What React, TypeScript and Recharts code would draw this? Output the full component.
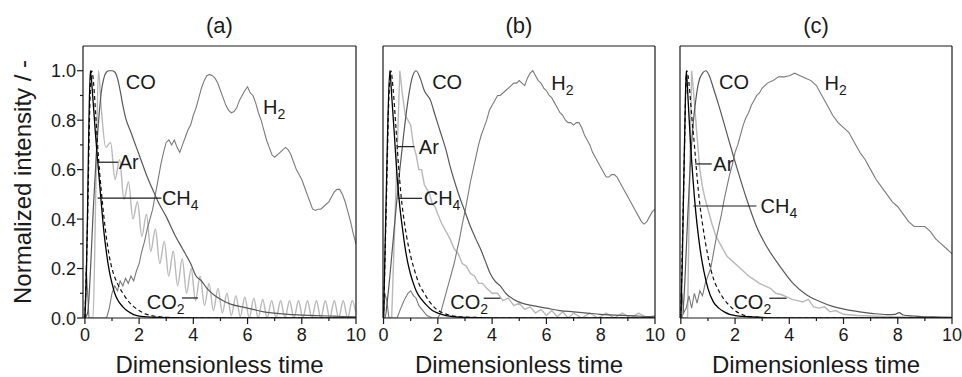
import React from "react";
import { LineChart, Line, XAxis, YAxis, ReferenceLine, ReferenceDot } from "recharts";

type Pt = [number, number];

const xTicks = [0, 1, 2, 3, 4, 5, 6, 7, 8, 9, 10];
const yTicks = [0, 0.1, 0.2, 0.3, 0.4, 0.5, 0.6, 0.7, 0.8, 0.9, 1.0];
const xTitle = "Dimensionless time";
const yTitle = "Normalized intensity / -";

// ---- panel (a) ----
const arA: Pt[] = [[0, 0], [0.05, 0.15], [0.1, 0.45], [0.15, 0.8], [0.2, 1.0], [0.3, 0.88], [0.4, 0.73], [0.5, 0.6], [0.6, 0.47], [0.7, 0.35], [0.8, 0.26], [0.9, 0.19], [1.0, 0.14], [1.1, 0.1], [1.2, 0.075], [1.4, 0.045], [1.6, 0.026], [1.8, 0.014], [2.0, 0.008], [2.5, 0.003], [3.0, 0.001], [4, 0], [10, 0]];
const ch4A: Pt[] = [[0, 0], [0.1, 0.4], [0.18, 0.85], [0.25, 1.0], [0.32, 0.95], [0.4, 0.82], [0.5, 0.65], [0.6, 0.52], [0.7, 0.41], [0.8, 0.32], [0.9, 0.25], [1.0, 0.2], [1.2, 0.14], [1.4, 0.1], [1.6, 0.068], [1.8, 0.046], [2.0, 0.03], [2.2, 0.018], [2.5, 0.009], [3.0, 0.003], [3.5, 0.001], [4, 0], [10, 0]];
const coA: Pt[] = [[0, 0], [0.1, 0.02], [0.2, 0.18], [0.3, 0.42], [0.4, 0.62], [0.5, 0.79], [0.6, 0.91], [0.7, 0.97], [0.8, 0.995], [0.9, 1.0], [1.0, 1.0], [1.1, 0.995], [1.2, 0.97], [1.3, 0.92], [1.4, 0.86], [1.5, 0.81], [1.7, 0.75], [1.9, 0.69], [2.1, 0.63], [2.3, 0.57], [2.5, 0.52], [2.7, 0.47], [3.0, 0.41], [3.3, 0.34], [3.6, 0.28], [3.9, 0.22], [4.1, 0.17], [4.3, 0.15], [4.5, 0.12], [4.8, 0.09], [5.1, 0.07], [5.4, 0.055], [5.8, 0.045], [6.2, 0.035], [6.6, 0.025], [7.0, 0.02], [7.5, 0.015], [8.0, 0.012], [8.5, 0.01], [9.0, 0.008], [9.5, 0.006], [10, 0.005]];
const co2A: Pt[] = [[0, 0], [0.3, 0], [0.4, 0.5], [0.5, 1.0], [0.61, 0.84], [0.77, 0.69], [0.95, 0.71], [1.11, 0.56], [1.28, 0.64], [1.44, 0.48], [1.61, 0.55], [1.77, 0.4], [1.94, 0.47], [2.1, 0.33], [2.27, 0.42], [2.43, 0.27], [2.6, 0.36], [2.76, 0.22], [2.93, 0.31], [3.09, 0.17], [3.26, 0.27], [3.42, 0.13], [3.59, 0.24], [3.75, 0.1], [3.92, 0.2], [4.08, 0.07], [4.25, 0.17], [4.41, 0.05], [4.58, 0.14], [4.74, 0.03], [4.91, 0.12], [5.07, 0.02], [5.24, 0.1], [5.4, 0.01], [5.57, 0.09], [5.73, 0.005], [5.9, 0.085], [6.06, 0], [6.23, 0.08], [6.39, 0], [6.56, 0.075], [6.72, 0], [6.89, 0.07], [7.05, 0], [7.22, 0.07], [7.38, 0], [7.55, 0.07], [7.71, 0], [7.88, 0.07], [8.04, 0], [8.21, 0.07], [8.37, 0], [8.54, 0.07], [8.7, 0], [8.87, 0.07], [9.03, 0], [9.2, 0.07], [9.36, 0], [9.53, 0.07], [9.69, 0], [9.86, 0.07], [10, 0.02]];
const h2A: Pt[] = [[0, 0], [0.05, 0.2], [0.1, 0.1], [0.15, 0], [0.8, 0], [0.9, 0.04], [1.0, 0.1], [1.1, 0.13], [1.2, 0.11], [1.3, 0.15], [1.4, 0.13], [1.5, 0.16], [1.6, 0.14], [1.7, 0.17], [1.8, 0.15], [1.9, 0.19], [2.0, 0.22], [2.1, 0.27], [2.2, 0.31], [2.3, 0.36], [2.4, 0.4], [2.5, 0.44], [2.6, 0.5], [2.7, 0.56], [2.8, 0.62], [2.9, 0.67], [3.0, 0.71], [3.1, 0.72], [3.2, 0.7], [3.3, 0.72], [3.4, 0.69], [3.5, 0.67], [3.6, 0.7], [3.7, 0.73], [3.8, 0.76], [3.9, 0.78], [4.0, 0.82], [4.1, 0.85], [4.2, 0.89], [4.3, 0.93], [4.4, 0.96], [4.5, 0.98], [4.6, 0.985], [4.7, 0.98], [4.8, 0.97], [4.9, 0.95], [5.0, 0.92], [5.1, 0.89], [5.2, 0.86], [5.3, 0.84], [5.4, 0.83], [5.5, 0.835], [5.6, 0.85], [5.7, 0.88], [5.8, 0.9], [5.9, 0.92], [6.0, 0.935], [6.1, 0.91], [6.2, 0.9], [6.3, 0.87], [6.4, 0.83], [6.5, 0.8], [6.6, 0.76], [6.7, 0.72], [6.8, 0.69], [6.9, 0.66], [7.0, 0.65], [7.1, 0.66], [7.2, 0.67], [7.3, 0.68], [7.4, 0.69], [7.5, 0.68], [7.6, 0.66], [7.7, 0.63], [7.8, 0.6], [7.9, 0.58], [8.0, 0.56], [8.1, 0.53], [8.2, 0.5], [8.3, 0.47], [8.4, 0.44], [8.5, 0.435], [8.6, 0.44], [8.7, 0.44], [8.8, 0.45], [8.9, 0.46], [9.0, 0.47], [9.1, 0.49], [9.2, 0.51], [9.3, 0.52], [9.4, 0.52], [9.5, 0.5], [9.6, 0.47], [9.7, 0.43], [9.8, 0.39], [9.9, 0.34], [10, 0.3]];

// ---- panel (b) ----
const arB: Pt[] = [[0, 0], [0.05, 0.25], [0.1, 0.5], [0.15, 0.75], [0.23, 1.0], [0.3, 0.9], [0.4, 0.74], [0.5, 0.57], [0.6, 0.45], [0.7, 0.36], [0.8, 0.28], [0.9, 0.22], [1.0, 0.175], [1.1, 0.14], [1.2, 0.11], [1.4, 0.075], [1.6, 0.05], [1.8, 0.03], [2.0, 0.02], [2.3, 0.01], [2.6, 0.005], [3.0, 0.002], [4, 0], [10, 0]];
const ch4B: Pt[] = [[0, 0], [0.1, 0.45], [0.2, 0.9], [0.27, 1.0], [0.35, 0.93], [0.45, 0.78], [0.55, 0.62], [0.65, 0.49], [0.75, 0.4], [0.85, 0.33], [1.0, 0.25], [1.15, 0.19], [1.3, 0.14], [1.5, 0.1], [1.7, 0.065], [1.9, 0.04], [2.1, 0.025], [2.4, 0.012], [2.8, 0.005], [3.5, 0.002], [4, 0], [10, 0]];
const coB: Pt[] = [[0, 0], [0.05, 0], [0.15, 0.08], [0.3, 0.25], [0.45, 0.43], [0.6, 0.6], [0.75, 0.75], [0.9, 0.88], [1.05, 0.97], [1.2, 1.0], [1.35, 0.97], [1.5, 0.92], [1.73, 0.88], [1.9, 0.82], [2.1, 0.75], [2.3, 0.68], [2.46, 0.61], [2.65, 0.54], [2.83, 0.48], [3.0, 0.43], [3.2, 0.37], [3.4, 0.32], [3.57, 0.28], [3.75, 0.23], [3.93, 0.18], [4.1, 0.15], [4.3, 0.13], [4.5, 0.1], [4.8, 0.075], [5.1, 0.06], [5.5, 0.05], [6.0, 0.04], [6.5, 0.03], [7.0, 0.025], [7.5, 0.02], [8.0, 0.015], [8.5, 0.012], [9.0, 0.01], [9.5, 0.007], [10, 0.005]];
const co2B: Pt[] = [[0, 0], [0.3, 0], [0.45, 0.5], [0.6, 1.0], [0.7, 0.9], [0.8, 0.82], [0.9, 0.8], [1.0, 0.78], [1.1, 0.7], [1.2, 0.66], [1.3, 0.6], [1.4, 0.6], [1.5, 0.54], [1.6, 0.52], [1.7, 0.5], [1.8, 0.46], [1.9, 0.45], [2.0, 0.42], [2.15, 0.38], [2.3, 0.35], [2.45, 0.32], [2.6, 0.28], [2.75, 0.26], [2.9, 0.22], [3.05, 0.21], [3.2, 0.18], [3.35, 0.17], [3.5, 0.14], [3.65, 0.14], [3.8, 0.12], [4.0, 0.1], [4.2, 0.1], [4.4, 0.07], [4.6, 0.08], [4.8, 0.05], [5.0, 0.06], [5.2, 0.035], [5.4, 0.045], [5.6, 0.02], [5.8, 0.035], [6.0, 0.01], [6.2, 0.03], [6.4, 0.005], [6.6, 0.025], [6.8, 0], [7.0, 0.02], [7.3, 0], [7.6, 0.02], [7.9, 0], [8.2, 0.02], [8.5, 0], [8.8, 0.02], [9.1, 0], [9.4, 0.02], [9.7, 0], [10, 0.01]];
const h2B: Pt[] = [[0, 0], [0.05, 0.1], [0.12, 0.07], [0.2, 0], [0.5, 0], [0.6, 0.03], [0.75, 0.07], [0.9, 0.1], [1.0, 0.11], [1.1, 0.09], [1.2, 0.08], [1.3, 0.05], [1.45, 0.03], [1.6, 0.01], [1.8, 0], [2.0, 0], [2.1, 0.02], [2.2, 0.06], [2.3, 0.1], [2.4, 0.14], [2.5, 0.18], [2.6, 0.22], [2.7, 0.27], [2.8, 0.32], [2.9, 0.38], [3.0, 0.43], [3.1, 0.49], [3.2, 0.55], [3.3, 0.6], [3.4, 0.65], [3.5, 0.7], [3.6, 0.74], [3.7, 0.77], [3.8, 0.8], [3.9, 0.84], [4.0, 0.86], [4.1, 0.88], [4.2, 0.9], [4.3, 0.9], [4.4, 0.91], [4.5, 0.92], [4.6, 0.93], [4.7, 0.94], [4.8, 0.95], [4.9, 0.95], [5.0, 0.96], [5.1, 0.95], [5.2, 0.94], [5.3, 0.97], [5.4, 0.99], [5.5, 1.0], [5.6, 0.98], [5.7, 0.96], [5.8, 0.95], [5.9, 0.93], [6.0, 0.92], [6.1, 0.9], [6.2, 0.89], [6.3, 0.87], [6.4, 0.85], [6.5, 0.83], [6.6, 0.82], [6.7, 0.8], [6.8, 0.79], [6.9, 0.79], [7.0, 0.78], [7.1, 0.79], [7.2, 0.79], [7.3, 0.77], [7.4, 0.74], [7.5, 0.72], [7.6, 0.7], [7.7, 0.67], [7.8, 0.65], [7.9, 0.63], [8.0, 0.61], [8.1, 0.59], [8.2, 0.57], [8.3, 0.57], [8.4, 0.58], [8.5, 0.58], [8.6, 0.57], [8.7, 0.55], [8.8, 0.53], [8.9, 0.51], [9.0, 0.49], [9.1, 0.47], [9.2, 0.45], [9.3, 0.43], [9.4, 0.41], [9.5, 0.39], [9.6, 0.38], [9.7, 0.39], [9.8, 0.41], [9.9, 0.43], [10, 0.44]];

// ---- panel (c) ----
const arC: Pt[] = [[0, 0], [0.05, 0.2], [0.1, 0.5], [0.15, 0.78], [0.2, 1.0], [0.27, 0.88], [0.35, 0.72], [0.45, 0.56], [0.55, 0.43], [0.65, 0.33], [0.75, 0.25], [0.85, 0.19], [1.0, 0.12], [1.2, 0.065], [1.4, 0.04], [1.6, 0.025], [1.8, 0.015], [2.0, 0.01], [2.5, 0.005], [3.0, 0.002], [3.5, 0], [10, 0]];
const ch4C: Pt[] = [[0, 0], [0.1, 0.5], [0.22, 1.0], [0.3, 0.95], [0.4, 0.82], [0.5, 0.7], [0.6, 0.57], [0.7, 0.46], [0.8, 0.38], [0.9, 0.31], [1.0, 0.25], [1.2, 0.16], [1.4, 0.11], [1.6, 0.075], [1.8, 0.05], [2.0, 0.03], [2.3, 0.012], [2.6, 0.005], [3.0, 0.002], [3.5, 0], [10, 0]];
const coC: Pt[] = [[0, 0], [0.05, 0], [0.15, 0.15], [0.25, 0.4], [0.35, 0.62], [0.45, 0.78], [0.55, 0.88], [0.65, 0.95], [0.8, 0.99], [0.92, 1.0], [1.05, 0.98], [1.2, 0.93], [1.4, 0.86], [1.69, 0.75], [2.06, 0.61], [2.43, 0.48], [2.79, 0.37], [3.16, 0.29], [3.65, 0.21], [4.14, 0.14], [4.63, 0.094], [5.12, 0.067], [5.6, 0.047], [6.1, 0.034], [6.6, 0.025], [7.1, 0.018], [7.6, 0.014], [7.9, 0.015], [8.05, 0.022], [8.2, 0.012], [8.6, 0.008], [9.0, 0.005], [9.5, 0.004], [10, 0.003]];
const co2C: Pt[] = [[0, 0], [0.25, 0], [0.33, 0.6], [0.4, 1.0], [0.48, 0.9], [0.58, 0.76], [0.7, 0.6], [0.8, 0.53], [0.9, 0.48], [1.0, 0.44], [1.15, 0.38], [1.3, 0.33], [1.5, 0.29], [1.7, 0.25], [1.9, 0.23], [2.1, 0.21], [2.3, 0.19], [2.5, 0.17], [2.7, 0.155], [2.9, 0.14], [3.1, 0.13], [3.3, 0.12], [3.5, 0.1], [3.7, 0.095], [3.9, 0.085], [4.1, 0.075], [4.3, 0.07], [4.5, 0.065], [4.7, 0.075], [4.9, 0.045], [5.1, 0.04], [5.3, 0.045], [5.5, 0.025], [5.7, 0.03], [6.0, 0.015], [6.5, 0.01], [7.0, 0.008], [8.0, 0.004], [9.0, 0.002], [10, 0.002]];
const h2C: Pt[] = [[0, 0], [0.05, 0.1], [0.1, 0.02], [0.2, 0.04], [0.3, 0.09], [0.4, 0.04], [0.5, 0.1], [0.6, 0.06], [0.7, 0.11], [0.8, 0.09], [0.9, 0.14], [1.0, 0.17], [1.1, 0.2], [1.2, 0.26], [1.3, 0.32], [1.4, 0.37], [1.5, 0.42], [1.6, 0.48], [1.7, 0.53], [1.8, 0.58], [1.9, 0.62], [2.0, 0.67], [2.1, 0.7], [2.2, 0.74], [2.3, 0.78], [2.4, 0.81], [2.5, 0.83], [2.6, 0.86], [2.7, 0.88], [2.8, 0.9], [2.9, 0.91], [3.0, 0.93], [3.2, 0.95], [3.4, 0.96], [3.6, 0.975], [3.8, 0.975], [4.0, 0.98], [4.2, 0.99], [4.4, 0.98], [4.6, 0.97], [4.8, 0.96], [5.0, 0.94], [5.2, 0.9], [5.4, 0.86], [5.6, 0.82], [5.8, 0.79], [6.0, 0.77], [6.2, 0.75], [6.4, 0.71], [6.6, 0.67], [6.8, 0.64], [7.0, 0.6], [7.2, 0.56], [7.4, 0.53], [7.6, 0.5], [7.8, 0.47], [8.0, 0.45], [8.2, 0.42], [8.4, 0.39], [8.6, 0.37], [8.8, 0.37], [9.0, 0.37], [9.2, 0.35], [9.4, 0.32], [9.6, 0.3], [9.8, 0.28], [10, 0.26]];

// in-plot labels: [text, subscript, t at text start, v at text middle]
type Note = [string, string, number, number];
// leader lines: [t from, t to, v]
type Leader = [number, number, number];

const notesA: Note[] = [["CO", "", 1.51, 0.954], ["H", "2", 6.57, 0.853], ["Ar", "", 1.25, 0.63], ["CH", "4", 2.84, 0.485], ["CO", "2", 2.28, 0.065]];
const leadersA: Leader[] = [[0.51, 1.22, 0.63], [0.47, 2.82, 0.485], [3.58, 4.17, 0.081]];
const notesB: Note[] = [["CO", "", 1.79, 0.955], ["H", "2", 6.18, 0.95], ["Ar", "", 1.3, 0.693], ["CH", "4", 1.48, 0.484], ["CO", "2", 2.46, 0.066]];
const leadersB: Leader[] = [[0.53, 1.14, 0.693], [0.53, 1.42, 0.484], [3.69, 4.3, 0.08]];
const notesC: Note[] = [["CO", "", 1.41, 0.955], ["H", "2", 5.3, 0.95], ["Ar", "", 1.2, 0.623], ["CH", "4", 2.94, 0.453], ["CO", "2", 1.94, 0.066]];
const leadersC: Leader[] = [[0.53, 1.14, 0.623], [0.46, 2.79, 0.453], [3.26, 3.9, 0.08]];

const FONT = '"Liberation Sans", Arial, Helvetica, sans-serif';
const INK = "#1a1a1a";

const rows = (pts: Pt[]) => pts.map(([t, v]) => ({ t, v }));

const XTick = (props: any) => {
  const { x, y, payload } = props;
  const major = payload.value % 2 === 0;
  return (
    <g>
      <line x1={x} y1={y} x2={x} y2={y + (major ? 6 : 3)} stroke={INK} strokeWidth={1.2} />
      {major && (
        <text x={x} y={y + 23} textAnchor="middle" fontSize={18} fill={INK} fontFamily={FONT}>
          {payload.value}
        </text>
      )}
    </g>
  );
};

const YTick = (props: any) => {
  const { x, y, payload } = props;
  const major = Math.round(payload.value * 10) % 2 === 0;
  return (
    <g>
      <line x1={x} y1={y} x2={x - (major ? 6 : 3)} y2={y} stroke={INK} strokeWidth={1.2} />
      {major && (
        <text x={x - 7} y={y + 6.5} textAnchor="end" fontSize={18} fill={INK} fontFamily={FONT}>
          {payload.value.toFixed(1)}
        </text>
      )}
    </g>
  );
};

const noteShape = (label: string, sub: string) => (p: any) => (
  <text x={p.cx} y={p.cy + 7} fontSize={20} fill={INK} fontFamily={FONT}>
    {label}
    {sub ? (
      <tspan dy={5} fontSize={14}>
        {sub}
      </tspan>
    ) : null}
  </text>
);

interface PanelProps {
  title: string;
  left: number;
  width: number;
  mLeft: number;
  mRight: number;
  yWidth: number;
  xMin: number;
  first: boolean;
  ar: Pt[];
  ch4: Pt[];
  co: Pt[];
  co2: Pt[];
  h2: Pt[];
  notes: Note[];
  leaders: Leader[];
  co2Smooth: boolean;
}

const Panel = (p: PanelProps) => (
  <div style={{ position: "absolute", left: p.left, top: 0 }}>
    <LineChart width={p.width} height={377} margin={{ top: 0, right: p.mRight, bottom: 0, left: p.mLeft }}>
      <XAxis
        xAxisId="b"
        dataKey="t"
        type="number"
        domain={[p.xMin, 10]}
        allowDataOverflow
        ticks={xTicks}
        interval={0}
        tickSize={0}
        tickMargin={0}
        tick={<XTick />}
        height={59}
        stroke={INK}
        strokeWidth={1.2}
        label={{ value: xTitle, position: "insideBottom", offset: 4, fontSize: 24, fill: INK }}
      />
      <XAxis
        xAxisId="t"
        orientation="top"
        dataKey="t"
        type="number"
        domain={[p.xMin, 10]}
        allowDataOverflow
        tick={false}
        tickLine={false}
        height={46}
        stroke={INK}
        strokeWidth={1.2}
        label={{ value: p.title, position: "insideTop", offset: 17, fontSize: 22, fill: INK }}
      />
      <YAxis
        yAxisId="l"
        type="number"
        domain={[0, 1.1]}
        allowDataOverflow
        ticks={yTicks}
        interval={0}
        tickSize={0}
        tickMargin={0}
        tick={p.first ? <YTick /> : false}
        tickLine={false}
        width={p.yWidth}
        stroke={INK}
        strokeWidth={1.2}
        label={
          p.first
            ? { value: yTitle, angle: -90, position: "insideLeft", offset: 22, fontSize: 24, fill: INK, style: { textAnchor: "middle" } }
            : undefined
        }
      />
      <YAxis
        yAxisId="r"
        orientation="right"
        type="number"
        domain={[0, 1.1]}
        allowDataOverflow
        tick={false}
        tickLine={false}
        width={1}
        stroke={INK}
        strokeWidth={1.2}
      />
      <Line xAxisId="b" yAxisId="l" data={rows(p.co2)} dataKey="v" type={p.co2Smooth ? "monotone" : "linear"} stroke="#b8b8b8" strokeWidth={1.4} dot={false} isAnimationActive={false} />
      <Line xAxisId="b" yAxisId="l" data={rows(p.h2)} dataKey="v" type="linear" stroke="#7a7a7a" strokeWidth={1.1} dot={false} isAnimationActive={false} />
      <Line xAxisId="b" yAxisId="l" data={rows(p.co)} dataKey="v" type="monotone" stroke="#585858" strokeWidth={1.2} dot={false} isAnimationActive={false} />
      <Line xAxisId="b" yAxisId="l" data={rows(p.ch4)} dataKey="v" type="monotone" stroke="#111" strokeWidth={1.2} strokeDasharray="4 3" dot={false} isAnimationActive={false} />
      <Line xAxisId="b" yAxisId="l" data={rows(p.ar)} dataKey="v" type="monotone" stroke="#000" strokeWidth={1.3} dot={false} isAnimationActive={false} />
      {p.leaders.map(([t1, t2, v], i) => (
        <ReferenceLine
          key={"l" + i}
          xAxisId="b"
          yAxisId="l"
          segment={[{ x: t1, y: v }, { x: t2, y: v }]}
          stroke={INK}
          strokeWidth={1.2}
          ifOverflow="visible"
        />
      ))}
      {p.notes.map(([label, sub, t, v], i) => (
        <ReferenceDot key={"n" + i} xAxisId="b" yAxisId="l" x={t} y={v} r={0} ifOverflow="visible" shape={noteShape(label, sub)} />
      ))}
    </LineChart>
  </div>
);

export default function App() {
  return (
    <div style={{ position: "absolute", left: 0, top: 0, width: 962, height: 377, background: "#fff", fontFamily: FONT }}>
      <Panel title="(a)" left={0} width={366} mLeft={0} mRight={9} yWidth={83} xMin={-0.07} first ar={arA} ch4={ch4A} co={coA} co2={co2A} h2={h2A} notes={notesA} leaders={leadersA} co2Smooth />
      <Panel title="(b)" left={373} width={292} mLeft={9} mRight={9} yWidth={1} xMin={-0.02} first={false} ar={arB} ch4={ch4B} co={coB} co2={co2B} h2={h2B} notes={notesB} leaders={leadersB} co2Smooth={false} />
      <Panel title="(c)" left={670} width={292} mLeft={9} mRight={9} yWidth={1} xMin={-0.03} first={false} ar={arC} ch4={ch4C} co={coC} co2={co2C} h2={h2C} notes={notesC} leaders={leadersC} co2Smooth={false} />
    </div>
  );
}
